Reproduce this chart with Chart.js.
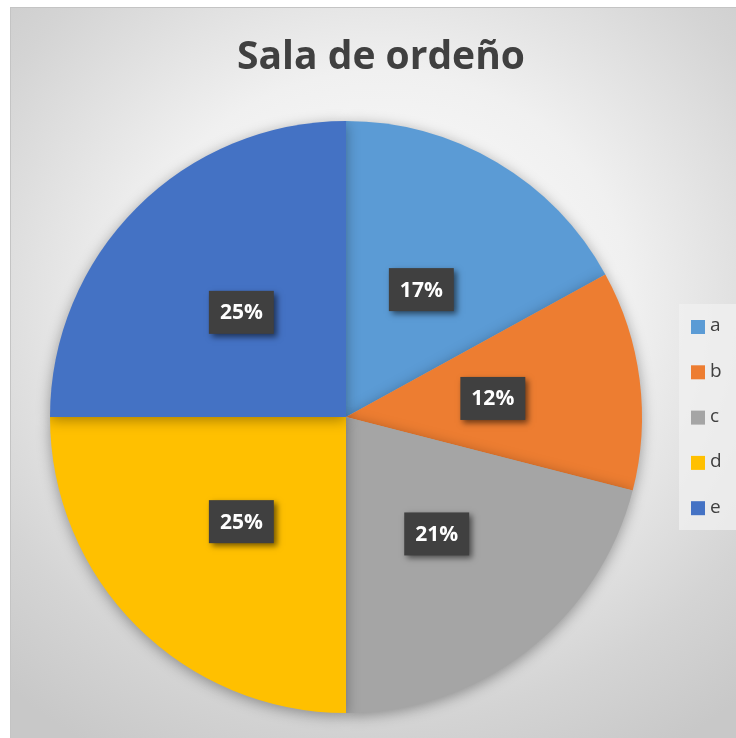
<!DOCTYPE html>
<html>
<head>
<meta charset="utf-8">
<script src="https://cdn.jsdelivr.net/npm/chart.js@4.4.0/dist/chart.umd.min.js"></script>
<style>
  html, body { margin: 0; padding: 0; background: #fff; overflow: hidden; }
  #frame {
    position: absolute; left: 10px; top: 7px; width: 740px; height: 740px;
    border-left: 1px solid #c4c4c4; border-top: 1px solid #c4c4c4;
    background: radial-gradient(ellipse 75% 70% at 50% 40%, #ffffff 0%, #f0f0f0 45%, #d4d4d4 80%, #c8c8c8 100%);
  }
  #wrap { position: absolute; left: 0; top: 0; width: 740px; height: 731px; }
</style>
</head>
<body>
<div id="frame"><div id="wrap"><canvas id="pie"></canvas></div></div>
<script>
// data
const labels = ['a', 'b', 'c', 'd', 'e'];
const values = [17, 12, 21, 25, 25];
const colors = ['#5b9bd5', '#ed7d31', '#a5a5a5', '#ffc000', '#4472c4'];
const titleText = 'Sala de ordeño';

const FONT = '"Open Sans", Lato, sans-serif';

// title centred on the whole frame, not just the padded area
const titleCenter = {
  id: 'titleCenter',
  afterLayout(chart) {
    const t = chart.titleBlock;
    if (t) { t.left = 0; t.right = chart.width; t.width = chart.width; }
  }
};

// shadow under the pie
const pieShadow = {
  id: 'pieShadow',
  beforeDatasetsDraw(chart) {
    const ctx = chart.ctx;
    ctx.save();
    ctx.shadowColor = 'rgba(0,0,0,0.35)';
    ctx.shadowBlur = 14;
    ctx.shadowOffsetX = 0;
    ctx.shadowOffsetY = 3;
  },
  afterDatasetsDraw(chart) {
    chart.ctx.restore();
  }
};

// dark boxes with percent
const pctLabels = {
  id: 'pctLabels',
  afterDatasetsDraw(chart) {
    const ctx = chart.ctx;
    const meta = chart.getDatasetMeta(0);
    const data = chart.data.datasets[0].data;
    const total = data.reduce((s, v) => s + v, 0);
    ctx.save();
    ctx.font = 'bold 21px ' + FONT;
    ctx.textAlign = 'center';
    ctx.textBaseline = 'middle';
    meta.data.forEach((arc, i) => {
      const p = arc.getProps(['x', 'y', 'startAngle', 'endAngle', 'outerRadius'], true);
      const mid = (p.startAngle + p.endAngle) / 2;
      const r = p.outerRadius * 0.5;
      const cx = p.x + Math.cos(mid) * r;
      const cy = p.y + Math.sin(mid) * r;
      const txt = Math.round(data[i] / total * 100) + '%';
      const w = ctx.measureText(txt).width + 22;
      const h = 43;
      ctx.save();
      ctx.shadowColor = 'rgba(0,0,0,0.55)';
      ctx.shadowBlur = 6;
      ctx.shadowOffsetX = 3;
      ctx.shadowOffsetY = 3;
      ctx.fillStyle = '#404040';
      ctx.fillRect(cx - w / 2, cy - h / 2, w, h);
      ctx.restore();
      ctx.fillStyle = '#ffffff';
      ctx.fillText(txt, cx, cy + 1);
    });
    ctx.restore();
  }
};

// legend box on the right
const sideLegend = {
  id: 'sideLegend',
  afterDraw(chart) {
    const ctx = chart.ctx;
    const lbls = chart.data.labels;
    const cols = chart.data.datasets[0].backgroundColor;
    ctx.save();
    ctx.fillStyle = 'rgba(240,240,240,0.75)';
    ctx.fillRect(668, 296, 60, 226);
    ctx.font = '19px ' + FONT;
    ctx.textBaseline = 'middle';
    ctx.textAlign = 'left';
    lbls.forEach((l, i) => {
      const y = 319 + i * 45.3;
      ctx.fillStyle = cols[i];
      ctx.fillRect(680, y - 7, 14, 14);
      ctx.fillStyle = '#404040';
      ctx.fillText(l, 699, y - 1);
    });
    ctx.restore();
  }
};

new Chart(document.getElementById('pie'), {
  type: 'pie',
  data: {
    labels: labels,
    datasets: [{
      data: values,
      backgroundColor: colors,
      borderWidth: 0,
      hoverOffset: 0
    }]
  },
  options: {
    responsive: true,
    maintainAspectRatio: false,
    animation: false,
    events: [],
    layout: { padding: { left: 39, right: 109, top: 0, bottom: 26 } },
    plugins: {
      legend: { display: false },
      tooltip: { enabled: false },
      title: {
        display: true,
        text: titleText,
        color: '#404040',
        font: { family: FONT, size: 39, weight: 'bold', lineHeight: 1.2 },
        padding: { top: 26, bottom: 40.2 }
      }
    }
  },
  plugins: [titleCenter, pieShadow, pctLabels, sideLegend]
});
</script>
</body>
</html>
